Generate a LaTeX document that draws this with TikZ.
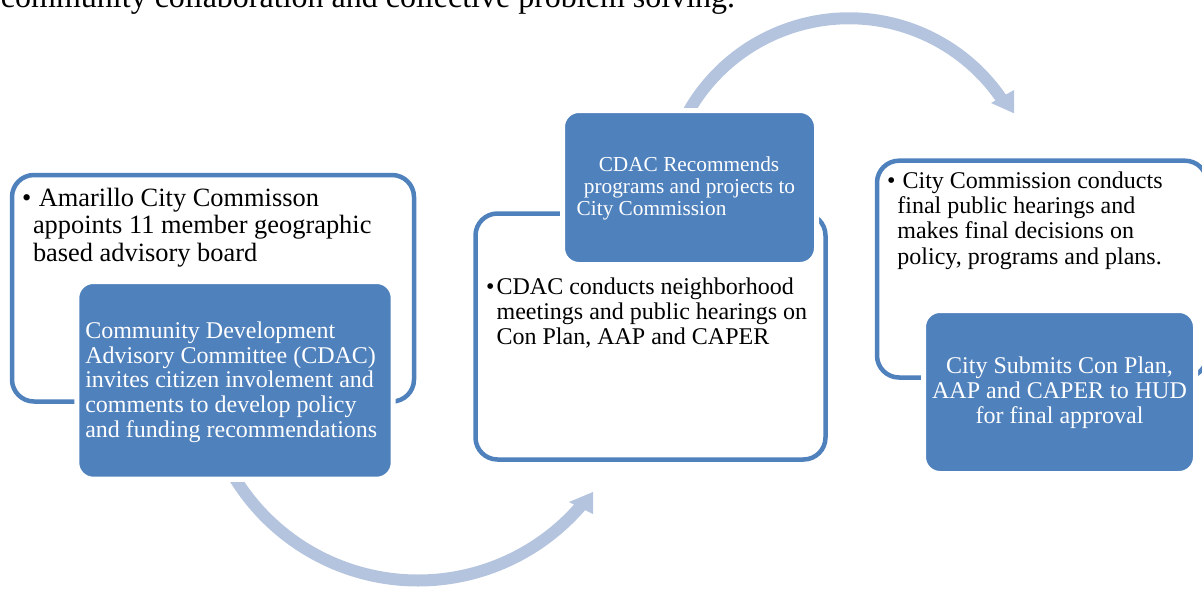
\documentclass[tikz,border=0pt]{standalone}
\usepackage{fontspec}
\setmainfont{Liberation Serif}
\definecolor{accent}{RGB}{79,129,189}
\definecolor{arrowc}{RGB}{180,196,222}
\newcommand\fsA{\fontsize{26.4}{27.5}\selectfont}
\newcommand\fsB{\fontsize{24}{25}\selectfont}
\newcommand\fsC{\fontsize{21.3}{21.5}\selectfont}
\begin{document}
\begin{tikzpicture}[x=1pt,y=-1pt,
 outlinebox/.style={draw=accent, line width=4.5pt, rounded corners=22pt, fill=white, inner sep=0pt, outer sep=0pt, anchor=north west},
 fillbox/.style={draw=white, line width=5pt, fill=accent, rounded corners=16.5pt, inner sep=0pt, outer sep=0pt, anchor=north west},
 txt/.style={inner sep=0pt, outer sep=0pt, anchor=base west, text=black},
 wtxt/.style={inner sep=0pt, outer sep=0pt, text=white},
 flow/.style={draw=arrowc, line width=12pt},
 head/.style={fill=arrowc}
]
\useasboundingbox (0,0) rectangle (1202,589);
\clip (0,0) rectangle (1202,589);

% clipped intro line
\node[txt, font=\fontsize{32}{34}\selectfont] (intro) at (1,7.3) {community collaboration and collective problem solving.};

% bottom curved arrow
\begin{scope}
\clip (0,482.5) rectangle (1202,589);
\draw[flow] (418,365.5) ++(150:215) arc[start angle=150, end angle=40, radius=215];
\end{scope}
\fill[head] (569,502) -- (593,492) -- (593,514) -- cycle;

% top curved arrow
\begin{scope}
\clip (0,0) rectangle (1202,107.5);
\draw[flow] (849,203) ++(-155:184.7) arc[start angle=-155, end angle=-33, radius=184.7];
\end{scope}
\fill[head] (991,103) -- (1014,113.3) -- (1014,90) -- cycle;

% boxes
\node[outlinebox, minimum width=402pt, minimum height=226.5pt] (box1) at (12,175) {};
\node[fillbox, minimum width=316.4pt, minimum height=197.7pt] (fill1) at (76.8,281.5) {};
\node[outlinebox, minimum width=350pt, minimum height=246pt] (box2) at (475.5,213.5) {};
\node[fillbox, minimum width=254pt, minimum height=154pt] (fill2) at (562.5,110.5) {};
\node[outlinebox, minimum width=330pt, minimum height=216.8pt] (box3) at (877,160.7) {};
\node[fillbox, minimum width=272pt, minimum height=163pt] (fill3) at (923.5,310.5) {};

% left outline text
\node[txt, font=\fsA] (b1) at (22,206) {•};
\node[txt, font=\fsA] (t1a) at (38.8,206) {Amarillo City Commisson};
\node[txt, font=\fsA] (t1b) at (33,233.5) {appoints 11 member geographic};
\node[txt, font=\fsA] (t1c) at (33,261) {based advisory board};

% left filled text
\node[wtxt, anchor=base west, font=\fsB] (f1a) at (85.3,338.3) {Community Development};
\node[wtxt, anchor=base west, font=\fsB] (f1b) at (85.3,363) {Advisory Committee (CDAC)};
\node[wtxt, anchor=base west, font=\fsB] (f1c) at (85.3,387.8) {invites citizen involement and};
\node[wtxt, anchor=base west, font=\fsB] (f1d) at (85.3,412.5) {comments to develop policy};
\node[wtxt, anchor=base west, font=\fsB] (f1e) at (85.3,437.3) {and funding recommendations};

% middle filled text
\node[wtxt, anchor=base, font=\fsC] (f2a) at (689,171.7) {CDAC Recommends};
\node[wtxt, anchor=base, font=\fsC] (f2b) at (689.5,193.3) {programs and projects to};
\node[wtxt, anchor=base west, font=\fsC] (f2c) at (576.7,215) {City Commission};

% middle outline text
\node[txt, font=\fsB] (b2) at (486,294.3) {•};
\node[txt, font=\fsB] (t2a) at (496.6,294.3) {CDAC conducts neighborhood};
\node[txt, font=\fsB] (t2b) at (496.6,319.3) {meetings and public hearings on};
\node[txt, font=\fsB] (t2c) at (496.6,344.3) {Con Plan, AAP and CAPER};

% right outline text
\node[txt, font=\fsB] (b3) at (887.2,188.3) {•};
\node[txt, font=\fsB] (t3a) at (902.6,188.3) {City Commission conducts};
\node[txt, font=\fsB] (t3b) at (897.4,213.5) {final public hearings and};
\node[txt, font=\fsB] (t3c) at (897.4,238.8) {makes final decisions on};
\node[txt, font=\fsB] (t3d) at (897.4,264) {policy, programs and plans.};

% right filled text
\node[wtxt, anchor=base, font=\fsB] (f3a) at (1059.5,373.3) {City Submits Con Plan,};
\node[wtxt, anchor=base, font=\fsB] (f3b) at (1059.5,398.3) {AAP and CAPER to HUD};
\node[wtxt, anchor=base, font=\fsB] (f3c) at (1059.5,423.3) {for final approval};
\end{tikzpicture}
\end{document}
